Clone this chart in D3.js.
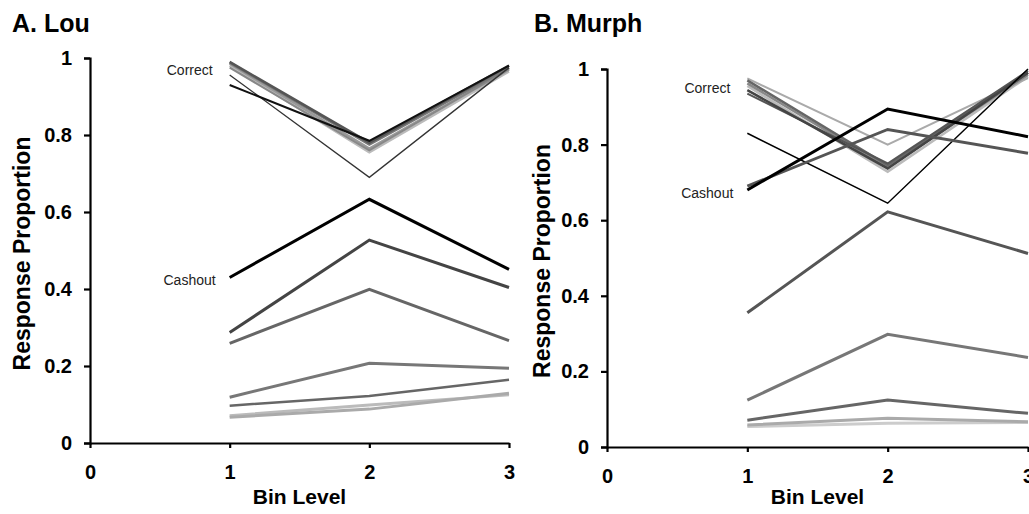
<!DOCTYPE html>
<html>
<head>
<meta charset="utf-8">
<script src="https://cdn.jsdelivr.net/npm/d3@7"></script>
<style>
  body { margin: 0; background: #fff; }
  svg { display: block; font-family: "Liberation Sans", Arial, sans-serif; }
  .ax path, .ax line { stroke: #000; stroke-width: 2.2; }
  .ax text { font-size: 20px; font-weight: bold; fill: #000; }
</style>
</head>
<body>
<svg id="chart" width="1029" height="514"></svg>
<script>
// bins on x axis
var bins = [1, 2, 3];
var xTicks = [0, 1, 2, 3];
var yTicks = [0, 0.2, 0.4, 0.6, 0.8, 1];

// Lou: proportion correct / cashout per condition, for bins 1..3
var louCorrect = [
  [0.98, 0.755, 0.965],
  [0.985, 0.765, 0.97],
  [0.975, 0.76, 0.972],
  [0.988, 0.775, 0.975],
  [0.99, 0.78, 0.98],
  [0.956, 0.69, 0.975],
  [0.93, 0.785, 0.98]
];
var louCashout = [
  [0.071, 0.099, 0.125],
  [0.067, 0.088, 0.129],
  [0.097, 0.122, 0.164],
  [0.119, 0.207, 0.194],
  [0.259, 0.399, 0.266],
  [0.287, 0.527, 0.404],
  [0.43, 0.633, 0.451]
];

// Murph
var murphCorrect = [
  [0.955, 0.728, 0.98],
  [0.975, 0.80, 0.976],
  [0.962, 0.74, 0.985],
  [0.97, 0.745, 0.99],
  [0.935, 0.75, 0.995],
  [0.944, 0.737, 0.99],
  [0.83, 0.645, 1.0]
];
var murphCashout = [
  [0.054, 0.063, 0.065],
  [0.058, 0.076, 0.067],
  [0.071, 0.124, 0.089],
  [0.124, 0.298, 0.237],
  [0.355, 0.622, 0.512],
  [0.69, 0.84, 0.777],
  [0.68, 0.894, 0.821]
];

// line styles (same index as the rows above)
var louCorrectStyle = [["#bbb", 2.5], ["#999", 2.5], ["#888", 2], ["#777", 2.5], ["#555", 2.5], ["#333", 1.3], ["#111", 2]];
var louCashoutStyle = [["#bbb", 3], ["#aaa", 3], ["#666", 2.5], ["#777", 3], ["#666", 3], ["#444", 3], ["#000", 3]];
var murphCorrectStyle = [["#bbb", 2.5], ["#aaa", 2], ["#888", 2.5], ["#666", 2.5], ["#555", 2], ["#444", 2.5], ["#000", 1.5]];
var murphCashoutStyle = [["#ccc", 3], ["#aaa", 3], ["#666", 3], ["#777", 3], ["#555", 3], ["#555", 3], ["#000", 3]];

var svg = d3.select("#chart");

function fmt(d) {
  return (d === 0 || d === 1) ? String(d) : d.toFixed(1);
}

function panel(opt) {
  var x = d3.scaleLinear().domain([0, 3]).range(opt.xr);
  var y = d3.scaleLinear().domain([0, 1]).range(opt.yr);
  var g = svg.append("g");

  g.append("text")
    .attr("x", opt.titleX).attr("y", 32)
    .style("font-size", "25px").style("font-weight", "bold")
    .text(opt.title);

  var line = d3.line()
    .x(function (d, i) { return x(bins[i]); })
    .y(function (d) { return y(d); });

  function drawSet(rows, styles) {
    rows.forEach(function (row, i) {
      g.append("path")
        .attr("d", line(row))
        .attr("fill", "none")
        .attr("stroke", styles[i][0])
        .attr("stroke-width", styles[i][1])
        .attr("stroke-linejoin", "miter");
    });
  }
  drawSet(opt.correct, opt.correctStyle);
  drawSet(opt.cashout, opt.cashoutStyle);

  g.append("g").attr("class", "ax")
    .attr("transform", "translate(0," + y(0) + ")")
    .call(d3.axisBottom(x).tickValues(xTicks).tickFormat(d3.format("d"))
      .tickSize(5).tickSizeOuter(0).tickPadding(17));

  g.append("g").attr("class", "ax")
    .attr("transform", "translate(" + x(0) + ",0)")
    .call(d3.axisLeft(y).tickValues(yTicks).tickFormat(fmt)
      .tickSize(6).tickSizeOuter(6).tickPadding(12));

  g.append("text")
    .attr("transform", "translate(" + opt.yTitleX + "," + ((y(0) + y(1)) / 2 + 3) + ") rotate(-90)")
    .attr("text-anchor", "middle")
    .style("font-size", "23px").style("font-weight", "bold")
    .text("Response Proportion");

  g.append("text")
    .attr("x", (x(0) + x(3)) / 2).attr("y", 504)
    .attr("text-anchor", "middle")
    .style("font-size", "21px").style("font-weight", "bold")
    .text("Bin Level");

  g.append("text")
    .attr("x", x(1) - 17).attr("y", y(opt.correctLabel) + 5)
    .attr("text-anchor", "end")
    .style("font-size", "14px").attr("fill", "#222")
    .text("Correct");
  g.append("text")
    .attr("x", x(1) - 14).attr("y", y(opt.cashoutLabel) + 5)
    .attr("text-anchor", "end")
    .style("font-size", "14px").attr("fill", "#222")
    .text("Cashout");
}

panel({
  title: "A. Lou", titleX: 12, xr: [90, 509], yr: [443, 58], yTitleX: 30,
  correct: louCorrect, cashout: louCashout,
  correctStyle: louCorrectStyle, cashoutStyle: louCashoutStyle,
  correctLabel: 0.969, cashoutLabel: 0.423
});

panel({
  title: "B. Murph", titleX: 534, xr: [607, 1028], yr: [447, 69], yTitleX: 550,
  correct: murphCorrect, cashout: murphCashout,
  correctStyle: murphCorrectStyle, cashoutStyle: murphCashoutStyle,
  correctLabel: 0.95, cashoutLabel: 0.672
});
</script>
</body>
</html>
